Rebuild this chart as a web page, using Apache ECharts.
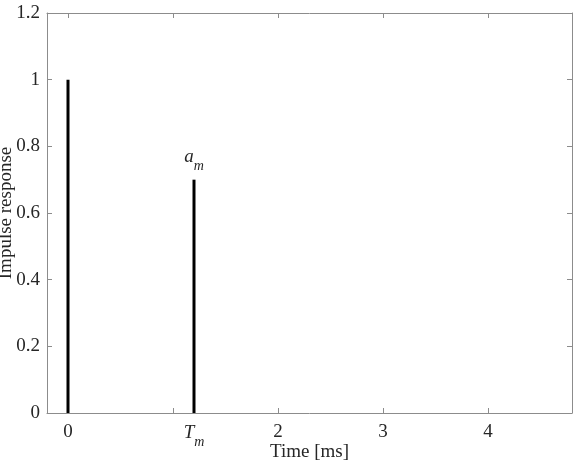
<!DOCTYPE html>
<html>
<head>
<meta charset="utf-8">
<script src="https://cdn.jsdelivr.net/npm/echarts@6/dist/echarts.min.js"></script>
<style>
  * { margin: 0; padding: 0; }
  html, body { width: 579px; height: 463px; background: #fff; }
  #main { width: 579px; height: 463px; }
</style>
</head>
<body>
<div id="main"></div>
<script>
// data
var impulseTimes = [0, 1.2];
var impulseValues = [1, 0.7];
var xTicks = [0, 1, 2, 3, 4];
var xLabels = [0, 1.2, 2, 3, 4];

var FONT = '"Liberation Serif", "Times New Roman", serif';
var TXT = '#262626';
var AX = '#8c8c8c';
var FS = 19;

// subscript styles (main letter on top, subscript pushed down)
function subRich() {
    return {
        b: { fontFamily: FONT, fontStyle: 'italic', fontSize: FS, color: TXT, lineHeight: 20, verticalAlign: 'top' },
        s: { fontFamily: FONT, fontStyle: 'italic', fontSize: 14, color: TXT, lineHeight: 26, verticalAlign: 'bottom' }
    };
}

var myChart = echarts.init(document.getElementById('main'));

var barData = impulseTimes.map(function (t, i) { return [t, impulseValues[i]]; });

var option = {
    animation: false,
    textStyle: { fontFamily: FONT },
    grid: { left: 47, right: 7, top: 13, bottom: 50, containLabel: false, outerBoundsMode: 'none' },
    xAxis: [{
        type: 'value',
        min: -0.2,
        max: 4.8,
        position: 'bottom',
        name: 'Time [ms]',
        nameLocation: 'middle',
        nameGap: 30,
        nameMoveOverlap: false,
        nameTextStyle: { fontFamily: FONT, fontSize: FS, color: TXT },
        axisLine: { show: true, onZero: false, lineStyle: { color: AX, width: 1 } },
        axisTick: { show: true, inside: true, length: 5, customValues: xTicks, lineStyle: { color: AX } },
        axisLabel: {
            customValues: xLabels,
            margin: 10,
            fontFamily: FONT, fontSize: FS, color: TXT,
            formatter: function (v) {
                if (Math.abs(v - 1.2) < 1e-6) return '{b|T}{s|m}';
                return String(v);
            },
            rich: subRich()
        },
        splitLine: { show: false }
    }, {
        type: 'value',
        min: -0.2,
        max: 4.8,
        position: 'top',
        axisLine: { show: true, onZero: false, lineStyle: { color: AX, width: 1 } },
        axisTick: { show: true, inside: true, length: 5, customValues: xTicks, lineStyle: { color: AX } },
        axisLabel: { show: false },
        splitLine: { show: false }
    }],
    yAxis: [{
        type: 'value',
        min: 0,
        max: 1.2,
        interval: 0.2,
        position: 'left',
        name: 'Impulse response',
        nameLocation: 'middle',
        nameGap: 31,
        nameMoveOverlap: false,
        nameTextStyle: { fontFamily: FONT, fontSize: FS, color: TXT },
        axisLine: { show: true, onZero: false, lineStyle: { color: AX, width: 1 } },
        axisTick: { show: true, inside: true, length: 5, lineStyle: { color: AX } },
        axisLabel: {
            margin: 7,
            fontFamily: FONT, fontSize: FS, color: TXT,
            formatter: function (v) { return String(Math.round(v * 10) / 10); }
        },
        splitLine: { show: false }
    }, {
        type: 'value',
        min: 0,
        max: 1.2,
        interval: 0.2,
        position: 'right',
        axisLine: { show: true, onZero: false, lineStyle: { color: AX, width: 1 } },
        axisTick: { show: true, inside: true, length: 5, lineStyle: { color: AX } },
        axisLabel: { show: false },
        splitLine: { show: false }
    }],
    series: [{
        type: 'bar',
        xAxisIndex: 0,
        yAxisIndex: 0,
        barWidth: 3,
        itemStyle: { color: '#000' },
        data: barData,
        label: {
            show: true,
            position: 'top',
            distance: 6,
            formatter: function (p) {
                return p.dataIndex === 1 ? '{b|a}{s|m}' : '';
            },
            rich: subRich()
        }
    }]
};

myChart.setOption(option);
</script>
</body>
</html>
